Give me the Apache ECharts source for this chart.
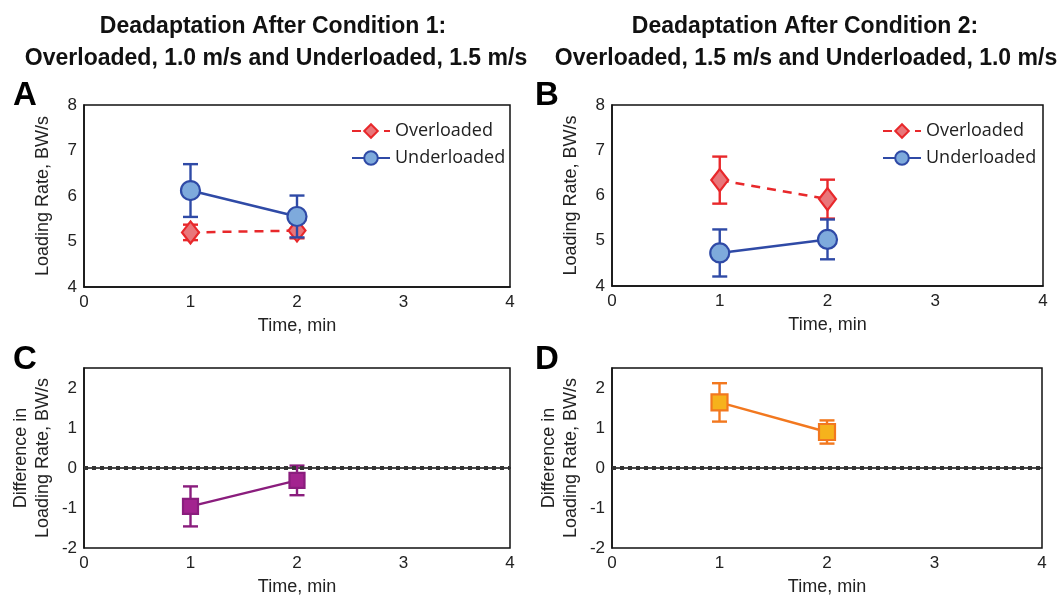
<!DOCTYPE html>
<html>
<head>
<meta charset="utf-8">
<script src="https://cdn.jsdelivr.net/npm/echarts@6/dist/echarts.min.js"></script>
<style>
  html, body { margin: 0; padding: 0; background: #fff; }
  #chart { width: 1059px; height: 602px; }
</style>
</head>
<body>
<div id="chart"></div>
<script>
// ==========================================
// data
// ==========================================
const times = [1, 2];
const xTicks = [0, 1, 2, 3, 4];

// panel A: after condition 1
const aOverMean = [5.2, 5.24];
const aOverErr = [0.17, 0.17];
const aUnderMean = [6.12, 5.55];
const aUnderErr = [0.58, 0.46];

// panel B: after condition 2
const bOverMean = [6.34, 5.92];
const bOverErr = [0.52, 0.43];
const bUnderMean = [4.73, 5.03];
const bUnderErr = [0.52, 0.44];

// panels C / D: difference in loading rate
const cDiffMean = [-0.96, -0.31];
const cDiffErr = [0.5, 0.37];
const dDiffMean = [1.64, 0.9];
const dDiffErr = [0.48, 0.29];

const seriesNames = ['Overloaded', 'Underloaded'];

// ==========================================
// helpers
// ==========================================
const FONT = 'Liberation Sans, Arial, sans-serif';

function points(means) {
    return times.map((t, i) => [t, means[i]]);
}

function ranges(means, errs) {
    return times.map((t, i) => [t, means[i] - errs[i], means[i] + errs[i]]);
}

// error bar with caps, positioned through the axis scale
function errorBarItem(params, api) {
    const x = api.value(0);
    const top = api.coord([x, api.value(2)]);
    const bot = api.coord([x, api.value(1)]);
    const hw = 7.5;
    const style = { stroke: api.visual('color'), lineWidth: 2.4, fill: null };
    return {
        type: 'group',
        children: [
            { type: 'line', shape: { x1: top[0], y1: top[1], x2: bot[0], y2: bot[1] }, style },
            { type: 'line', shape: { x1: top[0] - hw, y1: top[1], x2: top[0] + hw, y2: top[1] }, style },
            { type: 'line', shape: { x1: bot[0] - hw, y1: bot[1], x2: bot[0] + hw, y2: bot[1] }, style }
        ]
    };
}

function errorSeries(idx, means, errs, color, z) {
    return {
        type: 'custom',
        xAxisIndex: idx,
        yAxisIndex: idx,
        renderItem: errorBarItem,
        itemStyle: { color: color },
        data: ranges(means, errs),
        z: z || 2,
        silent: true
    };
}

function lineSeries(idx, name, means, opt) {
    return {
        name: name,
        type: 'line',
        xAxisIndex: idx,
        yAxisIndex: idx,
        data: points(means),
        symbol: opt.symbol,
        symbolSize: opt.size,
        lineStyle: { color: opt.line, width: 2.5, type: opt.dash || 'solid' },
        itemStyle: { color: opt.fill, borderColor: opt.line, borderWidth: 2.2 },
        z: opt.z || 3,
        animation: false
    };
}

// dotted reference line at zero difference
function zeroLine() {
    return {
        silent: true,
        symbol: 'none',
        label: { show: false },
        lineStyle: { color: '#333', width: 4, type: [4, 4] },
        data: [{ yAxis: 0 }]
    };
}

const grids = [
    { left: 84, top: 105, width: 426, height: 182 },
    { left: 612, top: 105, width: 431, height: 181 },
    { left: 84, top: 368, width: 426, height: 180 },
    { left: 612, top: 368, width: 430, height: 180 }
];

function xAxisFor(idx) {
    return {
        type: 'value',
        gridIndex: idx,
        min: xTicks[0],
        max: xTicks[xTicks.length - 1],
        interval: 1,
        name: 'Time, min',
        nameLocation: 'middle',
        nameGap: 30,
        nameTextStyle: { color: '#222', fontSize: 18, fontFamily: FONT },
        axisLine: { show: true, lineStyle: { color: '#111', width: 1.5 } },
        axisTick: { show: false },
        splitLine: { show: false },
        axisLabel: { color: '#222', fontSize: 17, fontFamily: FONT, margin: 7 }
    };
}

function yAxisFor(idx, min, max, name, gap) {
    return {
        type: 'value',
        gridIndex: idx,
        min: min,
        max: max,
        interval: 1,
        name: name,
        nameLocation: 'middle',
        nameGap: gap,
        nameTextStyle: { color: '#222', fontSize: 18, fontFamily: FONT, lineHeight: 22 },
        axisLine: { show: true, lineStyle: { color: '#111', width: 1.5 } },
        axisTick: { show: false },
        splitLine: { show: false },
        axisLabel: { color: '#222', fontSize: 17, fontFamily: FONT, margin: 7, showMaxLabel: max % 1 === 0 }
    };
}

function legendAt(left) {
    return {
        orient: 'vertical',
        left: left,
        top: 117,
        itemWidth: 38,
        itemHeight: 17,
        itemGap: 9,
        data: seriesNames,
        selectedMode: false,
        textStyle: { color: '#222', fontSize: 18, fontFamily: 'Open Sans, sans-serif' }
    };
}

const RED = '#e8282b', RED_FILL = '#e9767a';
const BLUE = '#2f4aa6', BLUE_FILL = '#7eaadc';
const PURPLE = '#8a1d7d', PURPLE_FILL = '#a3238f';
const ORANGE = '#f2781f', ORANGE_FILL = '#f6b21c';

const titleStyle = { color: '#111', fontSize: 23, fontWeight: 'bold', fontFamily: FONT };
const letterStyle = { color: '#000', fontSize: 33, fontWeight: 'bold', fontFamily: FONT };

// ==========================================
// chart
// ==========================================
const chart = echarts.init(document.getElementById('chart'), null, { renderer: 'canvas' });

chart.setOption({
    backgroundColor: '#fff',
    animation: false,
    title: [
        { text: 'Deadaptation After Condition 1:', left: 268, top: 10, textAlign: 'center', textStyle: titleStyle },
        { text: 'Overloaded, 1.0 m/s and Underloaded, 1.5 m/s', left: 271, top: 42, textAlign: 'center', textStyle: titleStyle },
        { text: 'Deadaptation After Condition 2:', left: 800, top: 10, textAlign: 'center', textStyle: titleStyle },
        { text: 'Overloaded, 1.5 m/s and Underloaded, 1.0 m/s', left: 801, top: 42, textAlign: 'center', textStyle: titleStyle },
        { text: 'A', left: 8, top: 74, textStyle: letterStyle },
        { text: 'B', left: 530, top: 74, textStyle: letterStyle },
        { text: 'C', left: 8, top: 338, textStyle: letterStyle },
        { text: 'D', left: 530, top: 338, textStyle: letterStyle }
    ],
    legend: [legendAt(346), legendAt(877)],
    grid: grids.map(g => Object.assign({ show: true, borderColor: '#111', borderWidth: 1.5, backgroundColor: '#fff' }, g)),
    xAxis: [0, 1, 2, 3].map(xAxisFor),
    yAxis: [
        yAxisFor(0, 4, 8, 'Loading Rate, BW/s', 30),
        yAxisFor(1, 4, 8, 'Loading Rate, BW/s', 30),
        yAxisFor(2, -2, 2.5, 'Difference in\nLoading Rate, BW/s', 30),
        yAxisFor(3, -2, 2.5, 'Difference in\nLoading Rate, BW/s', 30)
    ],
    series: [
        // A
        errorSeries(0, aOverMean, aOverErr, RED, 2),
        lineSeries(0, 'Overloaded', aOverMean, { symbol: 'diamond', size: [17, 22], line: RED, fill: RED_FILL, dash: [9, 7], z: 3 }),
        errorSeries(0, aUnderMean, aUnderErr, BLUE, 4),
        lineSeries(0, 'Underloaded', aUnderMean, { symbol: 'circle', size: 19, line: BLUE, fill: BLUE_FILL, z: 5 }),
        // B
        errorSeries(1, bOverMean, bOverErr, RED, 2),
        lineSeries(1, 'Overloaded', bOverMean, { symbol: 'diamond', size: [17, 22], line: RED, fill: RED_FILL, dash: [9, 7], z: 3 }),
        errorSeries(1, bUnderMean, bUnderErr, BLUE, 4),
        lineSeries(1, 'Underloaded', bUnderMean, { symbol: 'circle', size: 19, line: BLUE, fill: BLUE_FILL, z: 5 }),
        // C
        Object.assign(lineSeries(2, 'Difference C', cDiffMean, { symbol: 'rect', size: 15, line: PURPLE, fill: PURPLE_FILL }), { markLine: zeroLine() }),
        errorSeries(2, cDiffMean, cDiffErr, PURPLE),
        // D
        Object.assign(lineSeries(3, 'Difference D', dDiffMean, { symbol: 'rect', size: 16, line: ORANGE, fill: ORANGE_FILL }), { markLine: zeroLine() }),
        errorSeries(3, dDiffMean, dDiffErr, ORANGE)
    ]
});

window.addEventListener('resize', () => chart.resize());
</script>
</body>
</html>
